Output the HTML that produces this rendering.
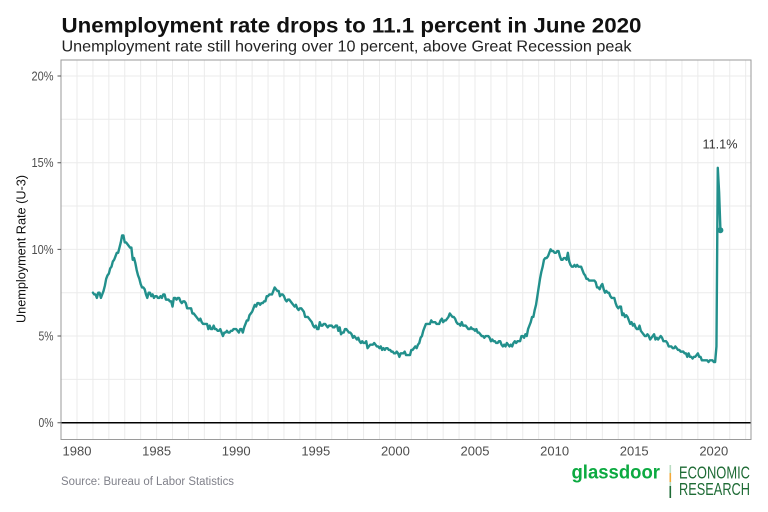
<!DOCTYPE html>
<html>
<head>
<meta charset="utf-8">
<style>
html,body{margin:0;padding:0;background:#fff;}
svg{display:block;}
text{font-family:"Liberation Sans",sans-serif;}
</style>
</head>
<body>
<svg width="768" height="512" viewBox="0 0 768 512" xmlns="http://www.w3.org/2000/svg">
<rect x="0" y="0" width="768" height="512" fill="#fff"/>
<text x="61.5" y="32.3" font-size="21" font-weight="bold" fill="#111" textLength="580" lengthAdjust="spacingAndGlyphs">Unemployment rate drops to 11.1 percent in June 2020</text>
<text x="61.5" y="51.7" font-size="16" fill="#222" textLength="570" lengthAdjust="spacingAndGlyphs">Unemployment rate still hovering over 10 percent, above Great Recession peak</text>
<path stroke="#ebebeb" stroke-width="1" fill="none" d="M77 60V439.5M92.92 60V439.5M108.84 60V439.5M124.76 60V439.5M140.68 60V439.5M156.6 60V439.5M172.52 60V439.5M188.44 60V439.5M204.36 60V439.5M220.28 60V439.5M236.2 60V439.5M252.12 60V439.5M268.04 60V439.5M283.96 60V439.5M299.88 60V439.5M315.8 60V439.5M331.72 60V439.5M347.64 60V439.5M363.56 60V439.5M379.48 60V439.5M395.4 60V439.5M411.32 60V439.5M427.24 60V439.5M443.16 60V439.5M459.08 60V439.5M475 60V439.5M490.92 60V439.5M506.84 60V439.5M522.76 60V439.5M538.68 60V439.5M554.6 60V439.5M570.52 60V439.5M586.44 60V439.5M602.36 60V439.5M618.28 60V439.5M634.2 60V439.5M650.12 60V439.5M666.04 60V439.5M681.96 60V439.5M697.88 60V439.5M713.8 60V439.5M729.72 60V439.5M745.64 60V439.5"/>
<path stroke="#ebebeb" stroke-width="1" fill="none" d="M61 76H751M61 119.3H751M61 162.7H751M61 206H751M61 249.35H751M61 292.7H751M61 336H751M61 379.4H751"/>
<line x1="61" y1="422.7" x2="751" y2="422.7" stroke="#000" stroke-width="1.5"/>
<rect x="61" y="60" width="690" height="379.5" fill="none" stroke="#9a9a9a" stroke-width="1"/>
<path stroke="#555" stroke-width="1" d="M57.5 76H61M57.5 162.7H61M57.5 249.35H61M57.5 336H61M57.5 422.7H61"/>
<g font-size="12.5" fill="#4d4d4d" text-anchor="end">
<text x="53.5" y="80.5" textLength="22" lengthAdjust="spacingAndGlyphs">20%</text>
<text x="53.5" y="167.2" textLength="22" lengthAdjust="spacingAndGlyphs">15%</text>
<text x="53.5" y="253.8" textLength="22" lengthAdjust="spacingAndGlyphs">10%</text>
<text x="53.5" y="340.5" textLength="15" lengthAdjust="spacingAndGlyphs">5%</text>
<text x="53.5" y="427.2" textLength="15" lengthAdjust="spacingAndGlyphs">0%</text>
</g>
<g font-size="13" fill="#4d4d4d" text-anchor="middle">
<text x="77" y="455.5">1980</text>
<text x="156.6" y="455.5">1985</text>
<text x="236.2" y="455.5">1990</text>
<text x="315.8" y="455.5">1995</text>
<text x="395.4" y="455.5">2000</text>
<text x="475" y="455.5">2005</text>
<text x="554.6" y="455.5">2010</text>
<text x="634.2" y="455.5">2015</text>
<text x="713.8" y="455.5">2020</text>
</g>
<text transform="translate(25.5,249) rotate(-90)" text-anchor="middle" font-size="12.5" fill="#111" textLength="148" lengthAdjust="spacingAndGlyphs">Unemployment Rate (U-3)</text>
<g transform="translate(92.92,422.7) scale(1.32667,-17.335)">
<polyline fill="none" stroke="#22908c" stroke-width="2.4" stroke-linejoin="round" stroke-linecap="round" vector-effect="non-scaling-stroke" points="0,7.5 1,7.4 2,7.4 3,7.2 4,7.5 5,7.5 6,7.2 7,7.4 8,7.6 9,7.9 10,8.3 11,8.5 12,8.6 13,8.9 14,9.0 15,9.3 16,9.4 17,9.6 18,9.8 19,9.8 20,10.1 21,10.4 22,10.8 23,10.8 24,10.4 25,10.4 26,10.3 27,10.2 28,10.1 29,10.1 30,9.4 31,9.5 32,9.2 33,8.8 34,8.5 35,8.3 36,8.0 37,7.8 38,7.8 39,7.7 40,7.4 41,7.2 42,7.5 43,7.5 44,7.3 45,7.4 46,7.2 47,7.3 48,7.3 49,7.2 50,7.2 51,7.3 52,7.2 53,7.4 54,7.4 55,7.1 56,7.1 57,7.1 58,7.0 59,7.0 60,6.7 61,7.2 62,7.2 63,7.1 64,7.2 65,7.2 66,7.0 67,6.9 68,7.0 69,7.0 70,6.9 71,6.6 72,6.6 73,6.6 74,6.6 75,6.3 76,6.3 77,6.2 78,6.1 79,6.0 80,5.9 81,6.0 82,5.8 83,5.7 84,5.7 85,5.7 86,5.7 87,5.4 88,5.6 89,5.4 90,5.4 91,5.6 92,5.4 93,5.4 94,5.3 95,5.3 96,5.4 97,5.2 98,5.0 99,5.2 100,5.2 101,5.3 102,5.2 103,5.2 104,5.3 105,5.3 106,5.4 107,5.4 108,5.4 109,5.3 110,5.2 111,5.4 112,5.4 113,5.2 114,5.5 115,5.7 116,5.9 117,5.9 118,6.2 119,6.3 120,6.4 121,6.6 122,6.8 123,6.7 124,6.9 125,6.9 126,6.8 127,6.9 128,6.9 129,7.0 130,7.0 131,7.3 132,7.3 133,7.4 134,7.4 135,7.4 136,7.6 137,7.8 138,7.7 139,7.6 140,7.6 141,7.3 142,7.4 143,7.4 144,7.3 145,7.1 146,7.0 147,7.1 148,7.1 149,7.0 150,6.9 151,6.8 152,6.7 153,6.8 154,6.6 155,6.5 156,6.6 157,6.6 158,6.5 159,6.4 160,6.1 161,6.1 162,6.1 163,6.0 164,5.9 165,5.8 166,5.6 167,5.5 168,5.6 169,5.4 170,5.4 171,5.8 172,5.6 173,5.6 174,5.7 175,5.7 176,5.6 177,5.5 178,5.6 179,5.6 180,5.6 181,5.5 182,5.5 183,5.6 184,5.6 185,5.3 186,5.5 187,5.1 188,5.2 189,5.2 190,5.4 191,5.4 192,5.3 193,5.2 194,5.2 195,5.1 196,4.9 197,5.0 198,4.9 199,4.8 200,4.9 201,4.7 202,4.6 203,4.7 204,4.6 205,4.6 206,4.7 207,4.3 208,4.4 209,4.5 210,4.5 211,4.5 212,4.6 213,4.5 214,4.4 215,4.4 216,4.3 217,4.4 218,4.2 219,4.3 220,4.2 221,4.3 222,4.3 223,4.2 224,4.2 225,4.1 226,4.1 227,4.0 228,4.0 229,4.1 230,4.0 231,3.8 232,4.0 233,4.0 234,4.0 235,4.1 236,3.9 237,3.9 238,3.9 239,3.9 240,4.2 241,4.2 242,4.3 243,4.4 244,4.3 245,4.5 246,4.6 247,4.9 248,5.0 249,5.3 250,5.5 251,5.7 252,5.7 253,5.7 254,5.7 255,5.9 256,5.8 257,5.8 258,5.8 259,5.7 260,5.7 261,5.7 262,5.9 263,6.0 264,5.8 265,5.9 266,5.9 267,6.0 268,6.1 269,6.3 270,6.2 271,6.1 272,6.1 273,6.0 274,5.8 275,5.7 276,5.7 277,5.6 278,5.8 279,5.6 280,5.6 281,5.6 282,5.5 283,5.4 284,5.4 285,5.5 286,5.4 287,5.4 288,5.3 289,5.4 290,5.2 291,5.2 292,5.1 293,5.0 294,5.0 295,4.9 296,5.0 297,5.0 298,5.0 299,4.9 300,4.7 301,4.8 302,4.7 303,4.7 304,4.6 305,4.6 306,4.7 307,4.7 308,4.5 309,4.4 310,4.5 311,4.4 312,4.6 313,4.5 314,4.4 315,4.5 316,4.4 317,4.6 318,4.7 319,4.6 320,4.7 321,4.7 322,4.7 323,5.0 324,5.0 325,4.9 326,5.1 327,5.0 328,5.4 329,5.6 330,5.8 331,6.1 332,6.1 333,6.5 334,6.8 335,7.3 336,7.8 337,8.3 338,8.7 339,9.0 340,9.4 341,9.5 342,9.5 343,9.6 344,9.8 345,10.0 346,9.9 347,9.9 348,9.8 349,9.8 350,9.9 351,9.9 352,9.6 353,9.4 354,9.4 355,9.5 356,9.5 357,9.4 358,9.8 359,9.3 360,9.1 361,9.0 362,9.0 363,9.1 364,9.0 365,9.1 366,9.0 367,9.0 368,9.0 369,8.8 370,8.6 371,8.5 372,8.3 373,8.3 374,8.2 375,8.2 376,8.2 377,8.2 378,8.2 379,8.1 380,7.8 381,7.8 382,7.7 383,7.9 384,8.0 385,7.7 386,7.5 387,7.6 388,7.5 389,7.5 390,7.3 391,7.2 392,7.2 393,7.2 394,6.9 395,6.7 396,6.6 397,6.7 398,6.7 399,6.2 400,6.3 401,6.1 402,6.2 403,6.1 404,5.9 405,5.7 406,5.8 407,5.6 408,5.7 409,5.5 410,5.4 411,5.4 412,5.6 413,5.3 414,5.2 415,5.1 416,5.0 417,5.0 418,5.1 419,5.0 420,4.8 421,4.9 422,5.0 423,5.1 424,4.8 425,4.9 426,4.8 427,4.9 428,5.0 429,4.9 430,4.7 431,4.7 432,4.7 433,4.6 434,4.4 435,4.4 436,4.4 437,4.3 438,4.3 439,4.4 440,4.3 441,4.2 442,4.2 443,4.1 444,4.1 445,4.1 446,4.0 447,4.0 448,3.8 449,4.0 450,3.8 451,3.8 452,3.7 453,3.8 454,3.8 455,3.9 456,4.0 457,3.8 458,3.8 459,3.6 460,3.6 461,3.6 462,3.6 463,3.6 464,3.5 465,3.6 466,3.6 467,3.6 468,3.5 469,3.5 470,4.4 471,14.7 472,13.3 473,11.1"/>
</g>
<circle cx="720.4" cy="230.3" r="3" fill="#22908c"/>
<text x="720" y="148.7" font-size="13" fill="#333" text-anchor="middle" textLength="35" lengthAdjust="spacingAndGlyphs">11.1%</text>
<text x="61" y="485" font-size="11.5" fill="#80818a" textLength="173" lengthAdjust="spacingAndGlyphs">Source: Bureau of Labor Statistics</text>
<text x="571.5" y="478.5" font-size="19" font-weight="bold" fill="#0caa41" textLength="88.5" lengthAdjust="spacingAndGlyphs">glassdoor</text>
<rect x="669.5" y="465" width="1.6" height="8" fill="#b9dcc1"/>
<rect x="669.5" y="473" width="1.6" height="9" fill="#f2a93b"/>
<rect x="669.5" y="482" width="1.6" height="4" fill="#b9dcc1"/>
<rect x="669.5" y="486" width="1.6" height="12" fill="#1e6b35"/>
<text x="679" y="478.4" font-size="17.5" fill="#1e6b35" textLength="71" lengthAdjust="spacingAndGlyphs">ECONOMIC</text>
<text x="679" y="495.2" font-size="17.5" fill="#1e6b35" textLength="71" lengthAdjust="spacingAndGlyphs">RESEARCH</text>
</svg>
</body>
</html>
